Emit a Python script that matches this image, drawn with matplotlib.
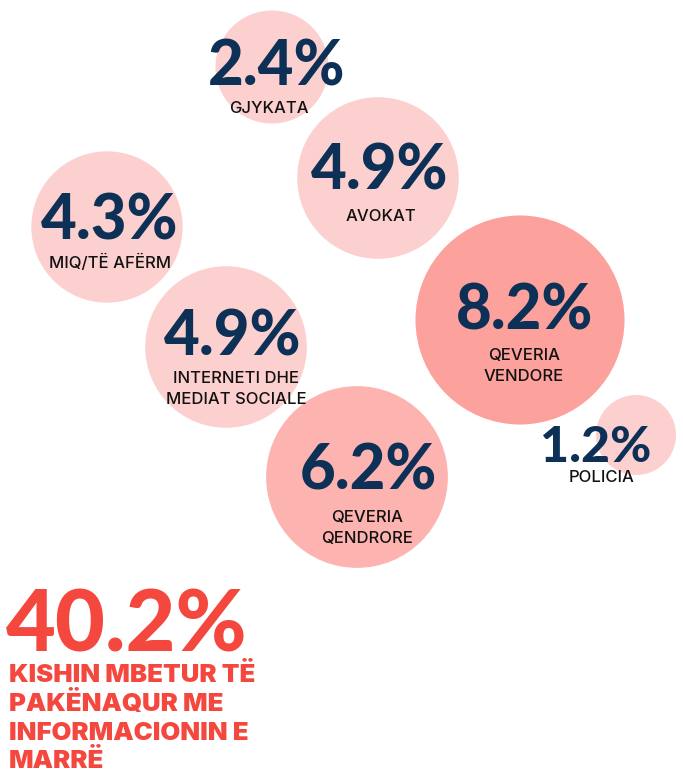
import matplotlib.pyplot as plt
from matplotlib.patches import Circle
import numpy as np

# data: share of respondents per information source
values = [2.4, 4.9, 4.3, 8.2, 4.9, 1.2, 6.2]
labels = ['GJYKATA', 'AVOKAT', 'MIQ/TË AFËRM', 'QEVERIA\nVENDORE',
          'INTERNETI DHE\nMEDIAT SOCIALE', 'POLICIA', 'QEVERIA\nQENDRORE']
total_value = 40.2
total_text = 'KISHIN MBETUR TË\nPAKËNAQUR ME\nINFORMACIONIN E\nMARRË'

# layout (pixel coords, y down)
centers = [(272, 67), (378, 178), (107, 227), (520, 320), (226, 347), (636, 435), (357, 477)]
num_pos = [(277, 85), (380, 190), (110, 240), (525, 330), (233, 355), (596, 462), (368, 490)]
lab_pos = [(269, 113), (381, 221), (110, 268), (524, 360), (236, 383), (602, 482), (367, 522)]
fills = ['#fdd0d0', '#fdd0d0', '#fdd0d0', '#fca19b', '#fdd0d0', '#fdd0d0', '#fdb4b0']
num_sizes = [44.5, 44.5, 44.5, 44.5, 44.5, 36, 44.5]

navy = '#0d3056'
red = '#f4473d'
num_font = 'Lato'
lab_font = 'Inter'

fig = plt.figure(figsize=(6.83, 7.70), dpi=100)
ax = fig.add_axes([0, 0, 1, 1])
ax.set_xlim(0, 683)
ax.set_ylim(770, 0)
ax.set_aspect('equal')
ax.axis('off')

# bubble area proportional to value
scale = 36.5
for v, c, f in zip(values, centers, fills):
    ax.add_patch(Circle(c, scale * np.sqrt(v), color=f, lw=0, zorder=1))

for i in range(len(values)):
    ax.text(num_pos[i][0], num_pos[i][1], f'{values[i]}%', ha='center', va='baseline',
            fontsize=num_sizes[i], fontweight='black', color=navy, family=num_font, zorder=3)
    lines = labels[i].split('\n')
    for j, ln in enumerate(lines):
        ax.text(lab_pos[i][0], lab_pos[i][1] + j * 21, ln, ha='center', va='baseline',
                fontsize=12, fontweight='medium', color='#111111', family=lab_font, zorder=3)

ax.text(6, 651, f'{total_value}%', ha='left', va='baseline', fontsize=62,
        fontweight='black', color=red, family=num_font)
for j, ln in enumerate(total_text.split('\n')):
    ax.text(9, 682 + j * 28.8, ln, ha='left', va='baseline', fontsize=18.5,
            fontweight='black', color=red, family=lab_font)

fig.savefig('out.png', dpi=100)
